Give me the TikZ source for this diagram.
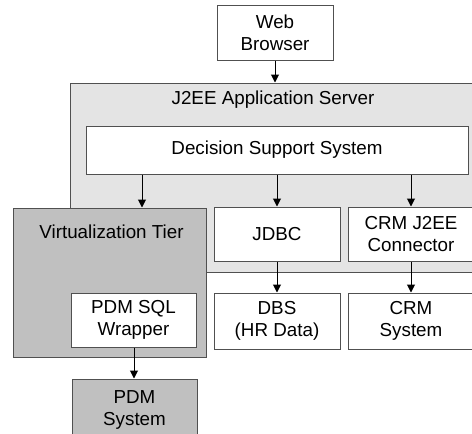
\documentclass[tikz,border=0pt]{standalone}
\usepackage{fontspec}
\setmainfont{Liberation Sans}
\usetikzlibrary{arrows.meta}
\definecolor{srvfill}{HTML}{E4E4E4}
\definecolor{darkfill}{HTML}{C0C0C0}
\definecolor{edge}{HTML}{505050}
\begin{document}
\begin{tikzpicture}[x=1pt,y=1pt,
  box/.style={draw=edge, line width=1pt, fill=white, inner sep=0pt, align=center,
    font=\fontsize{18.8}{22}\selectfont},
  label/.style={inner sep=0pt, font=\fontsize{18.8}{22}\selectfont},
  arr/.style={line width=1pt, -{Triangle[length=8pt,width=8pt]}}]
\clip (0,0) rectangle (472,-434);
\fill[white] (0,0) rectangle (472,-434);
% containers
\node[box, fill=srvfill, minimum width=420pt, minimum height=189pt] (server) at (280,-177.5) {};
\node[label] (serverlbl) at (273,-100) {J2EE Application Server};
\node[box, minimum width=382pt, minimum height=48pt] (dss) at (277,-150) {Decision Support System};
\node[box, fill=darkfill, minimum width=193pt, minimum height=149pt] (virt) at (109.5,-282.5) {};
\node[label] (virtlbl) at (111.5,-232) {Virtualization Tier};
% boxes
\node[box, minimum width=116pt, minimum height=55pt] (web) at (275,-32.5) {Web\\Browser};
\node[box, minimum width=126pt, minimum height=54pt] (jdbc) at (277,-234) {JDBC};
\node[box, minimum width=126pt, minimum height=54pt] (crmc) at (411,-234) {CRM J2EE\\Connector};
\node[box, minimum width=125pt, minimum height=54pt] (wrap) at (133.5,-320) {PDM SQL\\Wrapper};
\node[box, minimum width=126pt, minimum height=56pt] (dbs) at (277,-321) {DBS\\(HR Data)};
\node[box, minimum width=126pt, minimum height=56pt] (crms) at (411,-321) {CRM\\System};
\node[box, fill=darkfill, minimum width=125pt, minimum height=61pt] (pdm) at (134.5,-409.5) {PDM\\System};
% arrows
\draw[arr] (web.south) -- (server.north -| web.south);
\draw[arr] (dss.south -| 142,0) -- (virt.north -| 142,0);
\draw[arr] (dss.south -| jdbc.north) -- (jdbc.north);
\draw[arr] (dss.south -| crmc.north) -- (crmc.north);
\draw[arr] (jdbc.south) -- (dbs.north);
\draw[arr] (crmc.south) -- (crms.north);
\draw[arr] (wrap.south -| 134,0) -- (pdm.north -| 134,0);
\end{tikzpicture}
\end{document}
